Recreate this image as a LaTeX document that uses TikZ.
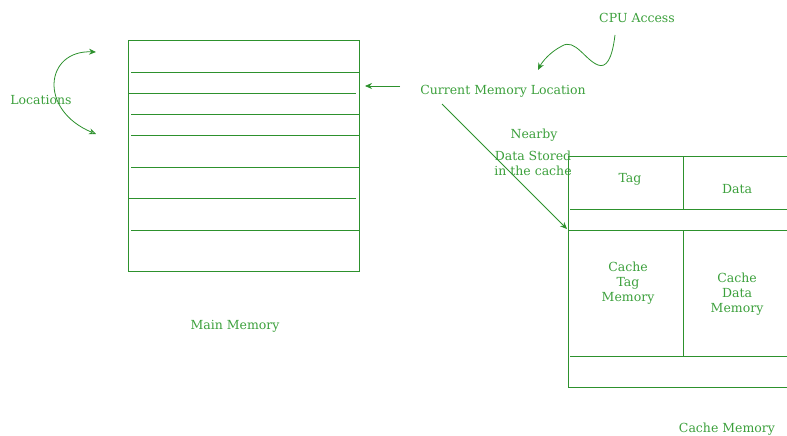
\documentclass[tikz,border=0pt]{standalone}
\usepackage{fontspec}
\setmainfont{DejaVu Serif}
\usetikzlibrary{arrows.meta}
\definecolor{memgreen}{RGB}{45,145,45}
\definecolor{labelgreen}{RGB}{60,160,60}

\begin{document}
\begin{tikzpicture}[x=1pt,y=-1pt,
    wall/.style={draw=memgreen, line width=1pt},
    lbl/.style={text=labelgreen, font=\fontsize{12.5}{15}\selectfont, align=center, inner sep=0pt},
    arr/.style={memgreen, line width=0.8pt, -{Stealth[length=7pt,width=6pt]}}]
\useasboundingbox (0,0) rectangle (787,436);
\clip (0,0) rectangle (787,436);

% main memory with its rows
\draw[wall] (128,41) rectangle (359,271);
\foreach \y/\a/\b in {73/131/359, 93/128/356, 114/131/359, 135/131/359,
                      167/131/359, 198/128/356, 230/131/359}
    \draw[wall] (\a,\y) -- (\b,\y);
\node[lbl] (mainmem) at (235,326) {Main Memory};

% cache memory, running off to the right
\draw[wall] (800,156) -- (568,156) -- (568,387) -- (800,387);
\draw[wall] (570,209) -- (800,209);
\draw[wall] (568,230) -- (800,230);
\draw[wall] (570,356) -- (800,356);
\draw[wall] (683,156) -- (683,209);
\draw[wall] (683,230) -- (683,356);
\node[lbl] (tag) at (630,179) {Tag};
\node[lbl] (data) at (737,189) {Data};
\node[lbl] (tagmem) at (628,283) {Cache\\Tag\\Memory};
\node[lbl] (datamem) at (737,294) {Cache\\Data\\Memory};
\node[lbl] (cachemem) at (727,429) {Cache Memory};

% labels and arrows
\node[lbl] (loc) at (41,100) {Locations};
\node[lbl] (cpu) at (637,18) {CPU Access};
\node[lbl] (cur) at (503,91) {Current Memory Location};
\node[lbl] (near) at (534,135) {Nearby};
\node[lbl] (stored) at (533,163) {Data Stored\\in the cache};

\coordinate (loctop) at (96,52);
\coordinate (locbot) at (96,134);
\coordinate (mmin) at (365,86);
\coordinate (cachein) at (567,229);
\coordinate (cpuout) at (615,35);

\draw[memgreen, line width=0.8pt, {Stealth[length=7pt,width=6pt]}-{Stealth[length=7pt,width=6pt,open]}]
    (loctop) .. controls (45,50) and (38,110) .. (locbot);
\draw[arr] ([xshift=-103pt,yshift=5pt]cur.center) -- (mmin);
\draw[arr] ([xshift=-61pt,yshift=-13pt]cur.center) -- (cachein);
\draw[arr] (cpuout) .. controls (612,60) and (606,68) .. (598,65)
    .. controls (585,60) and (575,38) .. (562,46)
    .. controls (550,52) and (542,62) .. (538,70);
\end{tikzpicture}
\end{document}
